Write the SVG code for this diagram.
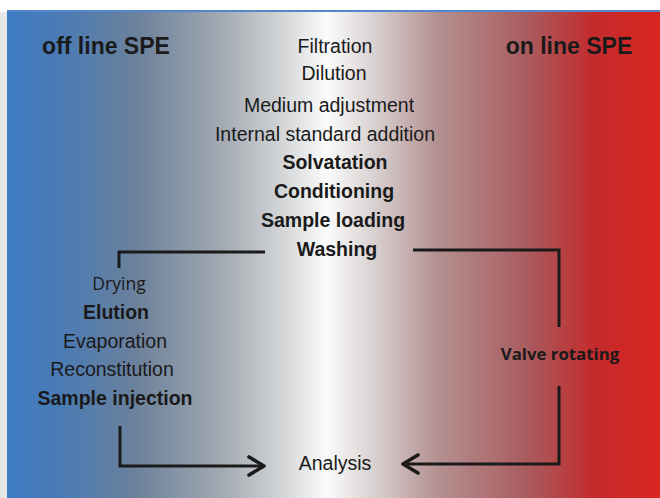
<svg xmlns="http://www.w3.org/2000/svg" width="660" height="498" viewBox="0 0 660 498">
<defs>
<linearGradient id="bg" x1="7" y1="0" x2="660" y2="0" gradientUnits="userSpaceOnUse">
<stop offset="0" stop-color="#3e7cc4"/>
<stop offset="0.08" stop-color="#4a7bb5"/>
<stop offset="0.2" stop-color="#6c819b"/>
<stop offset="0.33" stop-color="#a3aab2"/>
<stop offset="0.42" stop-color="#d2d4d6"/>
<stop offset="0.49" stop-color="#fbfbfb"/>
<stop offset="0.56" stop-color="#d9d2d2"/>
<stop offset="0.66" stop-color="#b49090"/>
<stop offset="0.8" stop-color="#a95a5d"/>
<stop offset="0.9" stop-color="#c42a2c"/>
<stop offset="1" stop-color="#d9261f"/>
</linearGradient>
<marker id="chev" viewBox="-20 -12 24 24" refX="0" refY="0" markerWidth="24" markerHeight="24" markerUnits="userSpaceOnUse" orient="auto" overflow="visible">
<path d="M-15,-9 L0,0 L-15,9" fill="none" stroke="#1a1a1a" stroke-width="3.6" stroke-linecap="round" stroke-linejoin="round"/>
</marker>
</defs>
<style>
.h{font-family:"Liberation Sans",Arial,sans-serif;font-weight:bold;font-size:23px;fill:#1a1a1a;text-anchor:middle}
.t{font-family:"Liberation Sans",Arial,sans-serif;font-size:19.5px;fill:#1a1a1a;text-anchor:middle}
.b{font-family:"Liberation Sans",Arial,sans-serif;font-weight:bold;font-size:19.5px;fill:#1a1a1a;text-anchor:middle}
.o{font-family:"Open Sans",sans-serif;font-size:17.5px;fill:#1a1a1a;text-anchor:middle}
.ob{font-family:"Open Sans",sans-serif;font-weight:bold;font-size:16.8px;fill:#1a1a1a;text-anchor:middle}
.c{fill:none;stroke:#1a1a1a;stroke-width:3}
</style>
<rect x="0" y="0" width="660" height="498" fill="#ffffff"/>
<rect x="0" y="12" width="8" height="486" fill="#e6e6e6"/>
<rect x="7" y="10" width="653" height="488" fill="url(#bg)"/>
<rect x="7" y="10" width="653" height="2" fill="#5588c8"/>
<g id="header-offline"><text class="h" x="106" y="54">off line SPE</text></g>
<g id="header-online"><text class="h" x="569" y="54">on line SPE</text></g>
<g id="steps-common">
<text class="t" x="335" y="53">Filtration</text>
<text class="t" x="334" y="80">Dilution</text>
<text class="t" x="329" y="112">Medium adjustment</text>
<text class="t" x="325" y="141">Internal standard addition</text>
<text class="b" x="335" y="169">Solvatation</text>
<text class="b" x="334" y="198">Conditioning</text>
<text class="b" x="333" y="227">Sample loading</text>
<text class="b" x="337" y="256">Washing</text>
</g>
<g id="steps-offline">
<text class="o" x="119" y="290">Drying</text>
<text class="b" x="116" y="319">Elution</text>
<text class="t" x="115" y="348">Evaporation</text>
<text class="t" x="112" y="376">Reconstitution</text>
<text class="b" x="115" y="405">Sample injection</text>
</g>
<g id="step-online"><text class="ob" x="560" y="360">Valve rotating</text></g>
<g id="analysis"><text class="t" x="335" y="470">Analysis</text></g>
<g id="connectors">
<path class="c" d="M119,268 V252 H265"/>
<path class="c" d="M413,250 H559 V327"/>
<path class="c" d="M120,426 V466 H264" marker-end="url(#chev)"/>
<path class="c" d="M559,386 V464 H403" marker-end="url(#chev)"/>
</g>
</svg>
